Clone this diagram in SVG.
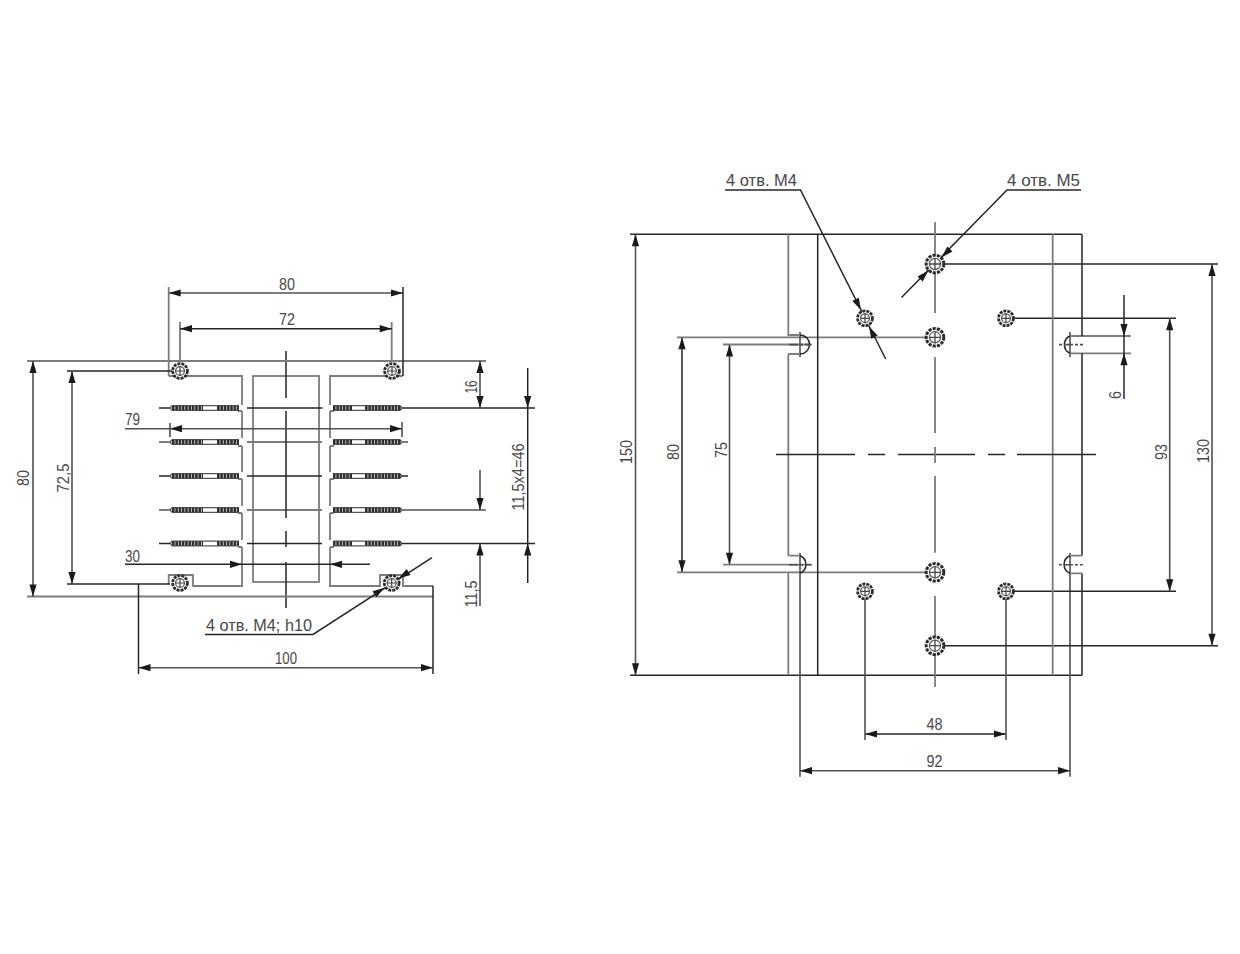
<svg xmlns="http://www.w3.org/2000/svg" xmlns:xlink="http://www.w3.org/1999/xlink" width="1240" height="954" viewBox="0 0 1240 954">
<style>
.g{stroke:#7c7c7c;stroke-width:1.8;fill:none}
.d{stroke:#262626;stroke-width:1.5;fill:none}
.m{stroke:#505050;stroke-width:1.6;fill:none}
text{font-family:"Liberation Sans",Arial,sans-serif;font-size:16.5px;fill:#484848}
.c{text-anchor:middle}
</style>
<defs>
<polygon id="a" points="0,0 -12,-3.6 -12,3.6" fill="#1a1a1a"/>
<g id="m4">
<circle r="7.4" fill="#fff" stroke="#2c2c2c" stroke-width="2.8" stroke-dasharray="3 1"/>
<circle r="4.4" fill="none" stroke="#555" stroke-width="1.2"/>
<path d="M-5 0H5M0-5V5" stroke="#444" stroke-width="1.2"/>
</g>
<g id="m5">
<circle r="8.8" fill="#fff" stroke="#2c2c2c" stroke-width="3" stroke-dasharray="3.2 1.1"/>
<circle r="5.6" fill="none" stroke="#555" stroke-width="1.2"/>
<path d="M-6 0H6M0-6V6" stroke="#444" stroke-width="1.3"/>
</g>
<g id="finL">
<path d="M172 -2.300H239M172 2.300H239M172 -2.300Q169 0 172 2.300" stroke="#555" stroke-width="1.2" fill="none"/>
<path d="M172 0H203M217 0H239" stroke="#2e2e2e" stroke-width="4.600" stroke-dasharray="2.600 .7" fill="none"/>
</g>
<g id="finR">
<path d="M333 -2.300H400M333 2.300H400M400 -2.300Q403 0 400 2.300" stroke="#555" stroke-width="1.2" fill="none"/>
<path d="M333 0H352M365 0H401" stroke="#2e2e2e" stroke-width="4.600" stroke-dasharray="2.600 .7" fill="none"/>
</g>
</defs>

<g id="left-view">
<path class="g" d="M168.700 376H242V405M242 411V438M242 446V472M242 479V506M242 513V540M242 547V586H193V575H168.700V584"/>
<path class="g" d="M238 411H242M238 446H242M238 479H242M238 513H242M238 547H242"/>
<path class="g" d="M403 376H330V405M330 411V438M330 446V472M330 479V506M330 513V540M330 547V586H380V575H403V586H433"/>
<path class="g" d="M330 411H334M330 446H334M330 479H334M330 513H334M330 547H334"/>
<rect class="g" x="253" y="376" width="66" height="206"/>
<g id="fins">
<use xlink:href="#finL" href="#finL" y="408"/><use xlink:href="#finR" href="#finR" y="408"/>
<use xlink:href="#finL" href="#finL" y="442"/><use xlink:href="#finR" href="#finR" y="442"/>
<use xlink:href="#finL" href="#finL" y="476"/><use xlink:href="#finR" href="#finR" y="476"/>
<use xlink:href="#finL" href="#finL" y="510"/><use xlink:href="#finR" href="#finR" y="510"/>
<use xlink:href="#finL" href="#finL" y="543.500"/><use xlink:href="#finR" href="#finR" y="543.500"/>
</g>
<path class="d" d="M159 408H170M247 408H322.500M402 408H535M159 476H170M247 476H322M402 476H408M159 543.500H170M247 543.500H322M402 543.500H535"/>
<path class="g" d="M159 442H170M247 442H322M400 442H408M159 510H170M247 510H322M402 510H486"/>
<path class="d" d="M286 351V398M286 411V518M286 531V547M286 562V608"/>
</g>

<g id="connectors">
<path class="g" d="M27 361H486M27 596.500H433"/>
<path class="g" d="M168.700 287V376M168 293H403"/>
<path class="d" d="M403 287V376"/>
<path class="g" d="M180 322V361M391.700 322V361"/>
<path class="d" d="M180 328.700H391.700"/>
<path class="d" d="M67 371H172M67 584H170"/>
<path class="m" d="M33 361V596.500M72 371V584"/>
<path class="m" d="M125 428.700H402M170 423V437M402 422V437"/>
<path class="d" d="M125 564.300H370"/>
<path class="d" d="M138.500 584V674M433 586V674"/>
<path class="m" d="M138.500 667.700H433"/>
<path class="m" d="M480 361V408M480 470V510M480 543.500V606"/>
<path class="d" d="M527.700 368V583"/>
<path class="d" d="M205 634.500H313L432 557.700"/>
<use xlink:href="#a" href="#a" transform="translate(168.700 293) rotate(180)"/>
<use xlink:href="#a" href="#a" transform="translate(403 293)"/>
<use xlink:href="#a" href="#a" transform="translate(180 328.700) rotate(180)"/>
<use xlink:href="#a" href="#a" transform="translate(391.700 328.700)"/>
<use xlink:href="#a" href="#a" transform="translate(33 361) rotate(-90)"/>
<use xlink:href="#a" href="#a" transform="translate(33 596.500) rotate(90)"/>
<use xlink:href="#a" href="#a" transform="translate(72 371) rotate(-90)"/>
<use xlink:href="#a" href="#a" transform="translate(72 584) rotate(90)"/>
<use xlink:href="#a" href="#a" transform="translate(170 428.700) rotate(180)"/>
<use xlink:href="#a" href="#a" transform="translate(402 428.700)"/>
<use xlink:href="#a" href="#a" transform="translate(242 564.300)"/>
<use xlink:href="#a" href="#a" transform="translate(330 564.300) rotate(180)"/>
<use xlink:href="#a" href="#a" transform="translate(138.500 667.700) rotate(180)"/>
<use xlink:href="#a" href="#a" transform="translate(433 667.700)"/>
<use xlink:href="#a" href="#a" transform="translate(480 361) rotate(-90)"/>
<use xlink:href="#a" href="#a" transform="translate(480 408) rotate(90)"/>
<use xlink:href="#a" href="#a" transform="translate(480 510) rotate(90)"/>
<use xlink:href="#a" href="#a" transform="translate(480 543.500) rotate(-90)"/>
<use xlink:href="#a" href="#a" transform="translate(527.700 408) rotate(90)"/>
<use xlink:href="#a" href="#a" transform="translate(527.700 543.500) rotate(-90)"/>
<use xlink:href="#a" href="#a" transform="translate(384.500 587.700) rotate(-33)"/>
<use xlink:href="#a" href="#a" transform="translate(398.500 578.600) rotate(147)"/>

<path class="d" d="M630 234.300H1082M630 675.300H1082"/>
<path class="m" d="M635.500 234.300V675.300"/>
<path class="d" d="M682 337.300V572.300"/>
<path class="m" d="M729.500 344.500V564.700"/>
<path class="g" d="M677 337.300H925M677 572.300H925M723 344.500H812M723 564.700H812"/>
<path class="m" d="M800 553V776.700M1070 553V776.700M800 332V357M1070 332V357"/>
<path class="m" d="M800 770.700H1070"/>
<path class="d" d="M865 734H1006"/>
<path class="m" d="M865 599V740M1006 599V740"/>
<path class="d" d="M1014 318.300H1176M1014 591.300H1176"/>
<path class="m" d="M1169.700 318.300V591.300"/>
<path class="d" d="M944 264H1218M944 645.700H1218"/>
<path class="m" d="M1212 264V645.700"/>
<path class="g" d="M1070 336H1131M1070 353.300H1131"/>
<path class="d" d="M1124 295V399"/>
<path class="d" d="M725 190H800.500L885.700 359"/>
<path class="d" d="M1081 190H1007L901.500 297.500"/>
<use xlink:href="#a" href="#a" transform="translate(635.500 234.300) rotate(-90)"/>
<use xlink:href="#a" href="#a" transform="translate(635.500 675.300) rotate(90)"/>
<use xlink:href="#a" href="#a" transform="translate(682 337.300) rotate(-90)"/>
<use xlink:href="#a" href="#a" transform="translate(682 572.300) rotate(90)"/>
<use xlink:href="#a" href="#a" transform="translate(729.500 344.500) rotate(-90)"/>
<use xlink:href="#a" href="#a" transform="translate(729.500 564.700) rotate(90)"/>
<use xlink:href="#a" href="#a" transform="translate(1169.700 318.300) rotate(-90)"/>
<use xlink:href="#a" href="#a" transform="translate(1169.700 591.300) rotate(90)"/>
<use xlink:href="#a" href="#a" transform="translate(1212 264) rotate(-90)"/>
<use xlink:href="#a" href="#a" transform="translate(1212 645.700) rotate(90)"/>
<use xlink:href="#a" href="#a" transform="translate(1124 336) rotate(90)"/>
<use xlink:href="#a" href="#a" transform="translate(1124 353.300) rotate(-90)"/>
<use xlink:href="#a" href="#a" transform="translate(865 734) rotate(180)"/>
<use xlink:href="#a" href="#a" transform="translate(1006 734)"/>
<use xlink:href="#a" href="#a" transform="translate(800 770.700) rotate(180)"/>
<use xlink:href="#a" href="#a" transform="translate(1070 770.700)"/>
<use xlink:href="#a" href="#a" transform="translate(861 310) rotate(63)"/>
<use xlink:href="#a" href="#a" transform="translate(869 326.500) rotate(-117)"/>
<use xlink:href="#a" href="#a" transform="translate(941.500 257.500) rotate(134.500)"/>
<use xlink:href="#a" href="#a" transform="translate(928.500 270.500) rotate(-45.500)"/>
</g>

<g id="right-view">
<path class="g" d="M788.300 234.300V335H800M800 354H788.300M788.300 573.300V675.300M788.300 555.700H800M788.300 354V555.700"/>
<path class="d" d="M800 335A9.500 9.500 0 0 1 800 354M800 555.700A9.500 9.500 0 0 1 800 573.300"/>
<path class="d" d="M817.700 234.300V675.300"/>
<path class="g" d="M1052.700 234.300V675.300"/>
<path class="d" d="M1082 234.300V336M1082 353.300V555.700M1082 573.300V675.300"/>
<path class="d" d="M1070 336A9.500 9.500 0 0 0 1070 353.300M1070 555.700A9.500 9.500 0 0 0 1070 573.300"/>
<path class="g" d="M1070 555.700H1082M1070 573.300H1082"/>
<path class="m" d="M789 344.600H811M789 564.800H811" stroke-dasharray="9 2 3 2"/>
<path class="m" d="M1059 344.600H1083M1059 564.800H1083" stroke-dasharray="3 2 9 2"/>
<path class="d" d="M776 454.500H855M868 454.500H885M898 454.500H975M988 454.500H1005M1017 454.500H1096"/>
<path class="g" d="M935 222V313M935 357V433M935 447V463M935 476V552.700M935 595.700V687"/>
</g>

<g id="holes">
<use xlink:href="#m4" href="#m4" x="180" y="371"/>
<use xlink:href="#m4" href="#m4" x="392" y="371"/>
<use xlink:href="#m4" href="#m4" x="180" y="583"/>
<use xlink:href="#m4" href="#m4" x="391.700" y="583"/>
<use xlink:href="#m4" href="#m4" x="865" y="318.300"/>
<use xlink:href="#m4" href="#m4" x="1006" y="318.300"/>
<use xlink:href="#m4" href="#m4" x="865" y="591.300"/>
<use xlink:href="#m4" href="#m4" x="1006" y="591.300"/>
<use xlink:href="#m5" href="#m5" x="935" y="264"/>
<use xlink:href="#m5" href="#m5" x="935" y="337.300"/>
<use xlink:href="#m5" href="#m5" x="935" y="572.300"/>
<use xlink:href="#m5" href="#m5" x="935" y="645.700"/>
</g>

<g id="labels">
<text class="c" x="287" y="290" textLength="16" lengthAdjust="spacingAndGlyphs">80</text>
<text class="c" x="287" y="325" textLength="16" lengthAdjust="spacingAndGlyphs">72</text>
<text class="c" x="132.500" y="425" textLength="15" lengthAdjust="spacingAndGlyphs">79</text>
<text class="c" x="132.500" y="561.500" textLength="15" lengthAdjust="spacingAndGlyphs">30</text>
<text class="c" x="286" y="664" textLength="22" lengthAdjust="spacingAndGlyphs">100</text>
<text x="206" y="631" textLength="106" lengthAdjust="spacingAndGlyphs">4 отв.  М4; h10</text>
<text class="c" transform="translate(29 478) rotate(-90)" textLength="16" lengthAdjust="spacingAndGlyphs">80</text>
<text class="c" transform="translate(69 478) rotate(-90)" textLength="29" lengthAdjust="spacingAndGlyphs">72,5</text>
<text class="c" transform="translate(476.700 387) rotate(-90)" textLength="13" lengthAdjust="spacingAndGlyphs">16</text>
<text class="c" transform="translate(476.700 594) rotate(-90)" textLength="27" lengthAdjust="spacingAndGlyphs">11,5</text>
<text class="c" transform="translate(524 477) rotate(-90)" textLength="67" lengthAdjust="spacingAndGlyphs">11,5x4=46</text>
<text x="726" y="186" textLength="71" lengthAdjust="spacingAndGlyphs">4 отв.  М4</text>
<text x="1007" y="186" textLength="73" lengthAdjust="spacingAndGlyphs">4 отв.  М5</text>
<text class="c" transform="translate(632 452) rotate(-90)" textLength="24" lengthAdjust="spacingAndGlyphs">150</text>
<text class="c" transform="translate(679 452) rotate(-90)" textLength="16" lengthAdjust="spacingAndGlyphs">80</text>
<text class="c" transform="translate(727 450) rotate(-90)" textLength="16" lengthAdjust="spacingAndGlyphs">75</text>
<text class="c" transform="translate(1166.500 452) rotate(-90)" textLength="16" lengthAdjust="spacingAndGlyphs">93</text>
<text class="c" transform="translate(1209 451) rotate(-90)" textLength="24" lengthAdjust="spacingAndGlyphs">130</text>
<text class="c" transform="translate(1121 395) rotate(-90)" textLength="8" lengthAdjust="spacingAndGlyphs">6</text>
<text class="c" x="934.500" y="730" textLength="16" lengthAdjust="spacingAndGlyphs">48</text>
<text class="c" x="934.500" y="767" textLength="16" lengthAdjust="spacingAndGlyphs">92</text>
</g>
</svg>
